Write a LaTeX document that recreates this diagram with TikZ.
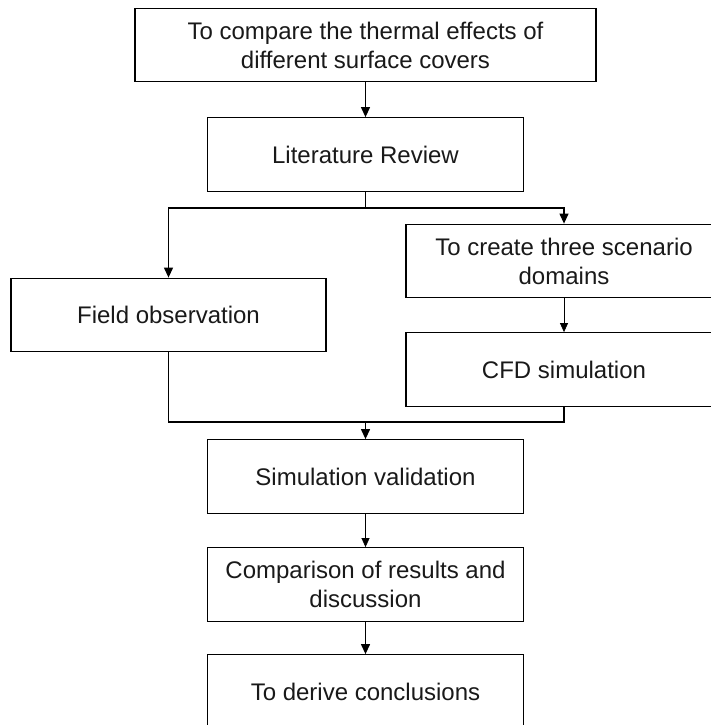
\documentclass[tikz,border=0pt]{standalone}
\usepackage{fontspec}
\setmainfont{Liberation Sans}
\usetikzlibrary{arrows.meta}
\begin{document}
\begin{tikzpicture}[x=1pt,y=-1pt,
  box/.style={draw, line width=1.3pt, inner sep=0pt, align=center,
    font=\fontsize{24}{29}\selectfont, text=black!90,
    minimum width=316pt, minimum height=73.5pt},
  arr/.style={line width=1.2pt, -{Triangle[width=9pt,length=10pt]}},
  thinarr/.style={line width=0.7pt, -{Triangle[width=8pt,length=9pt]}},
  ln/.style={line width=1.2pt}]
\useasboundingbox (0,0) rectangle (711,725);
\clip (0,0) rectangle (711,725);
\node[box, minimum width=461pt] (goal) at (365.5,45) {To compare the thermal effects of\\different surface covers};
\node[box] (lit) at (365.5,154.5) {Literature Review};
\node[box, minimum width=315pt] (field) at (168.5,315) {Field observation};
\node[box] (scen) at (564,261) {To create three scenario\\domains};
\node[box] (cfd) at (564,369.5) {CFD simulation};
\node[box] (sim) at (365.5,476.5) {Simulation validation};
\node[box] (comp) at (365.5,584.5) {Comparison of results and\\discussion};
\node[box] (concl) at (365.5,691.5) {To derive conclusions};
\coordinate (br) at (365.5,208);
\coordinate (mg) at (365.5,422);
\draw[arr] (goal) -- (lit);
\draw[ln] (lit.south) -- (br);
\draw[arr] (br) -| (field.north);
\draw[arr] (br) -| (scen.north);
\draw[thinarr] (scen) -- (cfd);
\draw[ln] (field.south) |- (mg);
\draw[ln] (cfd.south) |- (mg);
\draw[arr] (mg) -- (sim.north);
\draw[thinarr] (sim) -- (comp);
\draw[arr] (comp) -- (concl);
\end{tikzpicture}
\end{document}
